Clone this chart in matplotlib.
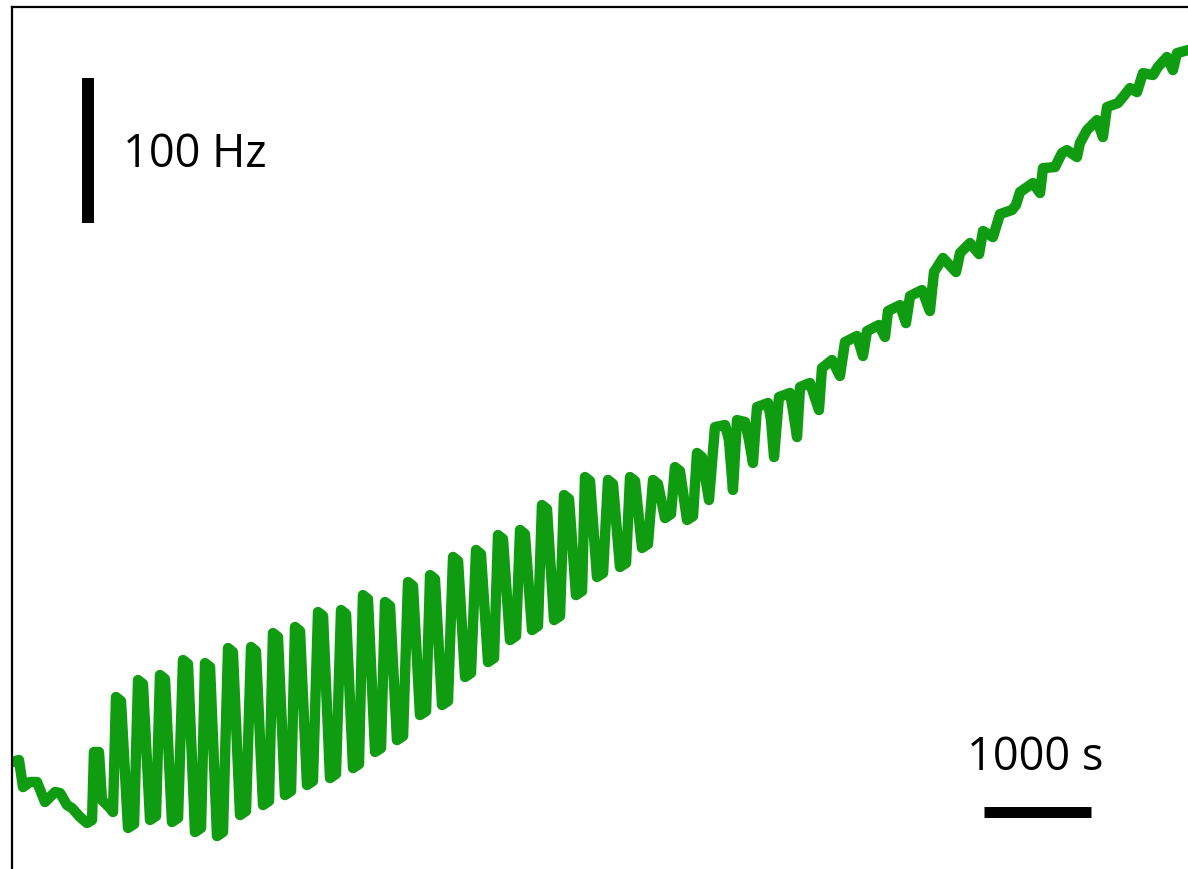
import matplotlib
matplotlib.use("Agg")
import matplotlib.pyplot as plt

# ---- data (time in s, frequency in Hz, arbitrary offset) ----
t_start = [0, 65, 103, 168, 234, 308, 402, 449, 514, 561, 636, 701, 748,
           766, 813, 841, 916, 944]
f_start = [95.2, 96.6, 77.9, 81.4, 81.4, 67.6, 74.5, 73.8, 65.5, 63.4, 57.2, 53.1, 55.2,
           102.1, 102.1, 69.0, 63.4, 60.7]

t_osc = [972, 1019, 1084, 1141,
         1178, 1224, 1290, 1346,
         1383, 1430, 1495, 1552,
         1598, 1645, 1710, 1767,
         1804, 1851, 1916, 1972,
         2019, 2065, 2131, 2187,
         2234, 2280, 2346, 2402,
         2439, 2486, 2551, 2608,
         2645, 2692, 2757, 2813,
         2860, 2907, 2972, 3028,
         3075, 3122, 3187, 3243,
         3280, 3327, 3393, 3449,
         3486, 3533, 3598, 3655,
         3701, 3748, 3813, 3870,
         3907, 3953, 4019, 4075,
         4122, 4169, 4234, 4290,
         4337, 4383, 4449, 4505,
         4542, 4589, 4654, 4711,
         4748, 4794, 4860, 4916,
         4953, 5000, 5066, 5122,
         5159, 5206, 5271, 5328,
         5355, 5402, 5467, 5524,
         5570, 5617, 5682, 5739,
         5776, 5823, 5888, 5944,
         5991, 6037, 6103, 6159,
         6196, 6243, 6309, 6365,
         6402, 6449, 6514]
f_osc = [140.0, 137.2, 49.7, 52.4,
         151.7, 149.0, 55.2, 57.9,
         155.2, 152.4, 53.8, 56.6,
         165.5, 162.8, 46.9, 49.7,
         163.4, 160.7, 44.1, 46.9,
         173.8, 171.0, 58.6, 61.4,
         174.5, 171.7, 65.5, 68.3,
         184.1, 181.4, 72.4, 75.2,
         188.3, 185.5, 79.3, 82.1,
         198.6, 195.9, 84.1, 86.9,
         200.0, 197.2, 91.0, 93.8,
         210.3, 207.6, 102.1, 104.8,
         205.5, 202.8, 110.3, 113.1,
         219.3, 216.6, 127.6, 130.3,
         224.1, 221.4, 134.5, 137.2,
         236.6, 233.8, 153.8, 156.6,
         241.4, 238.6, 164.1, 166.9,
         251.7, 249.0, 179.3, 182.1,
         255.2, 252.4, 186.2, 189.0,
         272.4, 269.7, 193.1, 195.9,
         279.3, 276.6, 210.3, 213.1,
         291.7, 289.0, 222.8, 225.5,
         289.7, 286.9, 229.7, 232.4,
         291.7, 289.0, 242.8, 245.5,
         289.7, 286.9, 263.4, 266.2,
         298.6, 295.9, 262.1, 264.8,
         308.3, 305.5, 275.9]

t_tail = [6570, 6664, 6701, 6738, 6776, 6851, 6888, 6925, 6963, 7066, 7094, 7122,
          7168, 7271, 7299, 7337, 7365, 7458, 7495, 7542, 7570, 7664, 7738, 7785,
          7897, 7953, 7991, 8103, 8159, 8187, 8299, 8355, 8393, 8505, 8579, 8617,
          8701, 8823, 8860, 8953, 9038, 9075, 9168, 9234, 9346, 9383, 9421, 9542,
          9608, 9636, 9748, 9813, 9860, 9953, 9981, 10047, 10140, 10196, 10234,
          10337, 10383, 10449, 10514, 10570, 10664, 10710, 10794, 10850, 10888, 10991]
f_tail = [326.2, 327.6, 317.2, 282.8, 331.0, 329.7, 317.2, 301.4, 340.0, 342.8, 331.0, 305.5,
          346.9, 349.7, 337.9, 319.3, 353.8, 356.6, 348.3, 337.9, 366.9, 372.4, 361.4, 384.8,
          389.0, 375.2, 392.4, 396.6, 388.3, 406.2, 410.3, 397.9, 416.6, 420.7, 406.2, 433.1,
          442.8, 433.1, 446.2, 453.1, 445.5, 461.4, 457.2, 473.1, 475.9, 479.3, 488.3, 494.5,
          487.6, 504.8, 505.5, 515.2, 517.2, 512.4, 522.1, 531.0, 537.9, 526.2, 546.9,
          549.7, 553.8, 560.0, 557.2, 570.3, 569.0, 574.5, 581.4, 572.4, 584.1, 586.2]

time_s = t_start + t_osc + t_tail
freq_hz = f_start + f_osc + f_tail

# scale bars
hz_bar = 100
s_bar = 1000
hz_bar_label = "100 Hz"
s_bar_label = "1000 s"

# ---- figure ----
W, H = 1188, 869
fig = plt.figure(figsize=(W / 100, H / 100), dpi=100)
ax = fig.add_axes([12 / W, 0.0, 1 - 12 / W, 1 - 7 / H])
ax.set_xlim(0, 10991)
ax.set_ylim(21.4, 615.9)

ax.plot(time_s, freq_hz, color="#109c10", lw=7.5, solid_joinstyle="round",
        solid_capstyle="round", clip_on=True)

# vertical scale bar (100 Hz)
vx = 710
vy0 = 466.9
ax.plot([vx, vx], [vy0, vy0 + hz_bar], color="black", lw=8.6, solid_capstyle="butt")
ax.text(1037, 505.5, hz_bar_label, fontsize=32.5, family="Open Sans",
        ha="left", va="baseline", color="black")

# horizontal scale bar (1000 s)
hx0 = 9084
hy = 61
ax.plot([hx0, hx0 + s_bar], [hy, hy], color="black", lw=7.9, solid_capstyle="butt")
ax.text(9560, 89.7, s_bar_label, fontsize=32.5, family="Open Sans",
        ha="center", va="baseline", color="black")

for side in ("right", "bottom"):
    ax.spines[side].set_visible(False)
for side in ("left", "top"):
    ax.spines[side].set_linewidth(1.6)
    ax.spines[side].set_color("black")
ax.set_xticks([])
ax.set_yticks([])

fig.savefig("out.png", dpi=100)
